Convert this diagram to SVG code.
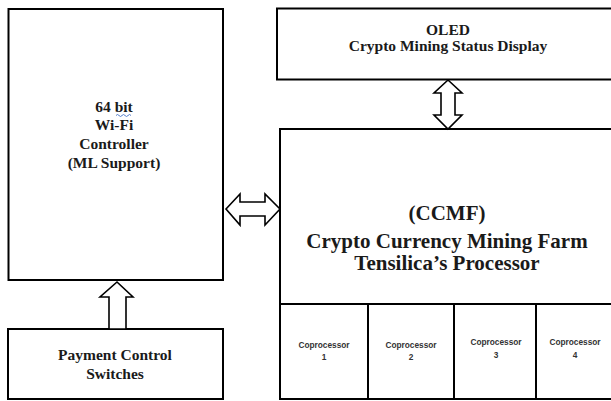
<svg xmlns="http://www.w3.org/2000/svg" width="611" height="401" viewBox="0 0 611 401">
<style>
.box{fill:#fff;stroke:#000;stroke-width:2}
.ln{stroke:#000;stroke-width:2;fill:none}
.arr{fill:#fff;stroke:#000;stroke-width:1.6;stroke-linejoin:miter}
.t{font-family:"Liberation Serif",serif;font-weight:bold;fill:#1a1a1a;text-anchor:middle}
.c{font-family:"Liberation Sans",Arial,sans-serif;font-size:8.3px;font-weight:bold;fill:#333;text-anchor:middle}
</style>
<rect width="611" height="401" fill="#fff"/>
<g id="wifi">
<rect class="box" x="8.5" y="9" width="214.5" height="271"/>
<text class="t" font-size="15.5" x="114" y="112">64 bit</text>
<path d="M116,115.5 q1.5,-2 3,0 t3,0 t3,0 t3,0 t3,0" fill="none" stroke="#4472c4" stroke-width="0.9"/>
<text class="t" font-size="15.5" x="114" y="130">Wi-Fi</text>
<text class="t" font-size="15.5" x="114" y="149">Controller</text>
<text class="t" font-size="15.5" x="114" y="168">(ML Support)</text>
</g>
<g id="oled">
<rect class="box" x="277" y="8.5" width="345" height="71"/>
<text class="t" font-size="15.5" x="448" y="35">OLED</text>
<text class="t" font-size="15.5" x="448" y="51">Crypto Mining Status Display</text>
</g>
<g id="ccmf">
<rect class="box" x="280" y="129" width="345" height="270"/>
<text class="t" font-size="21" x="447" y="220">(CCMF)</text>
<text class="t" font-size="21" x="447" y="248">Crypto Currency Mining Farm</text>
<text class="t" font-size="21" x="447" y="270">Tensilica’s Processor</text>
<line class="ln" x1="280" y1="304" x2="611" y2="304"/>
</g>
<g id="cop1">
<line class="ln" x1="368" y1="304" x2="368" y2="399"/>
<text class="c" x="324" y="348">Coprocessor</text>
<text class="c" x="324" y="360">1</text>
</g>
<g id="cop2">
<line class="ln" x1="454" y1="304" x2="454" y2="399"/>
<text class="c" x="411" y="348">Coprocessor</text>
<text class="c" x="411" y="360">2</text>
</g>
<g id="cop3">
<line class="ln" x1="536" y1="304" x2="536" y2="399"/>
<text class="c" x="496" y="345">Coprocessor</text>
<text class="c" x="496" y="358">3</text>
</g>
<g id="cop4">
<text class="c" x="575" y="345">Coprocessor</text>
<text class="c" x="575" y="358">4</text>
</g>
<g id="payment">
<rect class="box" x="8" y="329" width="215" height="70"/>
<text class="t" font-size="15.5" x="115" y="360">Payment Control</text>
<text class="t" font-size="15.5" x="115" y="379">Switches</text>
</g>
<g id="connectors">
<polygon class="arr" points="117,282 133,297 126,297 126,329 109,329 109,297 100,297"/>
<polygon class="arr" points="226,209 240,194 240,202 265,202 265,194 280,209 265,225 265,216 240,216 240,225"/>
<polygon class="arr" points="448,80 462,93 455,93 455,115 462,115 448,129 434,115 441,115 441,93 434,93"/>
</g>
</svg>
